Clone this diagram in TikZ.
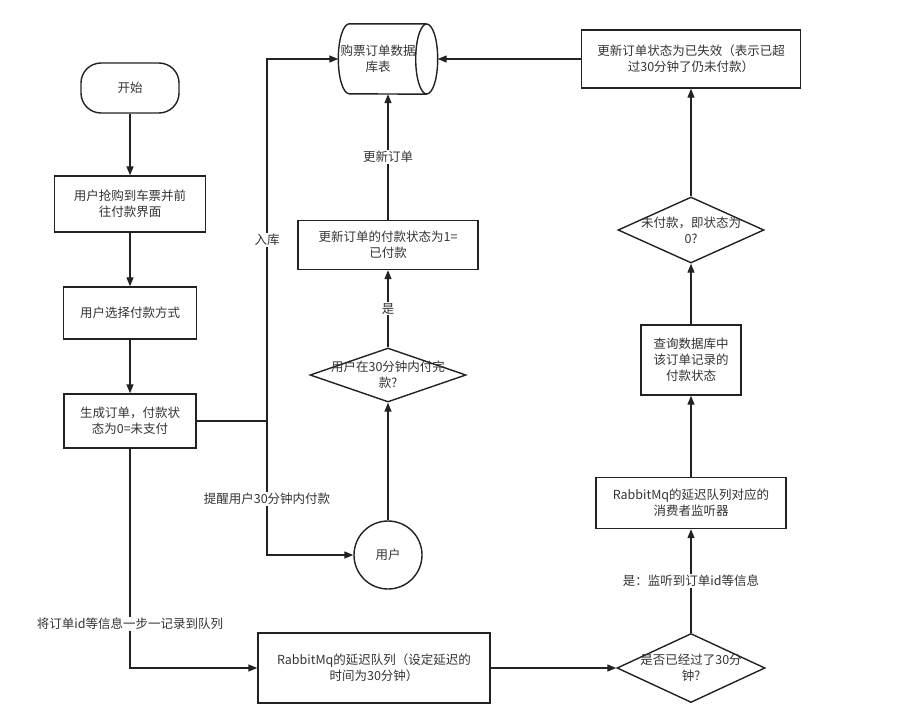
\documentclass[tikz,border=0pt]{standalone}
\usepackage{fontspec}
\setmainfont{Noto Sans CJK SC}
\usetikzlibrary{arrows.meta, positioning, shapes.geometric}
\definecolor{flline}{HTML}{222222}
\definecolor{fltext}{HTML}{333333}

\begin{document}
\begin{tikzpicture}[x=1pt, y=-1pt,
  every node/.style={font=\fontsize{12.5}{16}\selectfont, text=fltext, align=center},
  outline/.style={draw=flline, line width=1.4pt},
  proc/.style={rectangle, outline, inner sep=2pt},
  term/.style={proc, rounded corners=20pt, minimum width=98pt, minimum height=50pt},
  decision/.style={diamond, outline, inner sep=0pt},
  flow/.style={draw=flline, line width=1.3pt, -{Triangle[length=9pt, width=7pt]}},
  lbl/.style={fill=white, inner sep=1pt},
]
\useasboundingbox (0,0) rectangle (911,723);

% left column
\node[term] (start) at (130,88) {开始};
\node[proc, minimum width=151pt, minimum height=56pt] (grab) at (130,204) {用户抢购到车票并前\\往付款界面};
\node[proc, minimum width=133pt, minimum height=52pt] (choose) at (130,313) {用户选择付款方式};
\node[proc, minimum width=132pt, minimum height=54pt] (order) at (130,421) {生成订单，付款状\\态为0=未支付};
\coordinate (split) at (267,421);

% middle column
\node[minimum width=99pt, minimum height=70pt, inner sep=0pt] (db) at (388,59) {};
\draw[outline] ([xshift=-11pt]db.north east) -- ([xshift=11pt]db.north west)
  arc[start angle=90, end angle=270, x radius=11pt, y radius=35pt] -- ([xshift=-11pt]db.south east);
\draw[outline] ([xshift=-11pt]db.east) ellipse [x radius=11pt, y radius=35pt];
\node (dbtext) at ([xshift=-10pt]db.center) {购票订单数据\\库表};
\node[proc, minimum width=180pt, minimum height=49pt] (paid) at (388,245) {更新订单的付款状态为1=\\已付款};
\node[decision, minimum width=156pt, minimum height=54pt, label={center:{用户在30分钟内付完\\款?}}] (ask) at (388,375) {};
\node[circle, outline, minimum size=68pt] (user) at (388,555) {用户};
\node[proc, minimum width=232pt, minimum height=70pt] (queue) at (374,668) {RabbitMq的延迟队列（设定延迟的\\时间为30分钟）};

% right column
\node[proc, minimum width=219pt, minimum height=58pt] (expire) at (691,59) {更新订单状态为已失效（表示已超\\过30分钟了仍未付款）};
\node[decision, minimum width=146pt, minimum height=66pt, label={center:{未付款，即状态为\\0?}}] (unpaid) at (691,230) {};
\node[proc, minimum width=100pt, minimum height=70pt] (query) at (691,360) {查询数据库中\\该订单记录的\\付款状态};
\node[proc, minimum width=190pt, minimum height=51pt] (listen) at (691,503) {RabbitMq的延迟队列对应的\\消费者监听器};
\node[decision, minimum width=148pt, minimum height=69pt, label={center:{是否已经过了30分\\钟?}}] (late) at (691,668) {};

\draw[flow] (start) -- (grab);
\draw[flow] (grab) -- (choose);
\draw[flow] (choose) -- (order);
\draw[line width=1.3pt, draw=flline] (order.east) -- (split);
\draw[flow] (split) |- (db.west) node[lbl, pos=0.25] {入库};
\draw[flow] (split) |- (user.west) node[lbl, pos=0.29] {提醒用户30分钟内付款};
\draw[flow] (order.south) |- (queue.west) node[lbl, pos=0.4] {将订单id等信息一步一记录到队列};
\draw[flow] (queue.east) -- (late.west);
\draw[flow] (late.north) -- (listen.south) node[lbl, midway] {是：监听到订单id等信息};
\draw[flow] (listen) -- (query);
\draw[flow] (query) -- (unpaid);
\draw[flow] (unpaid) -- (expire);
\draw[flow] (expire.west) -- (db.east);
\draw[flow] (user) -- (ask);
\draw[flow] (ask) -- (paid) node[lbl, midway] {是};
\draw[flow] (paid) -- (db) node[lbl, midway] {更新订单};

\end{tikzpicture}
\end{document}
